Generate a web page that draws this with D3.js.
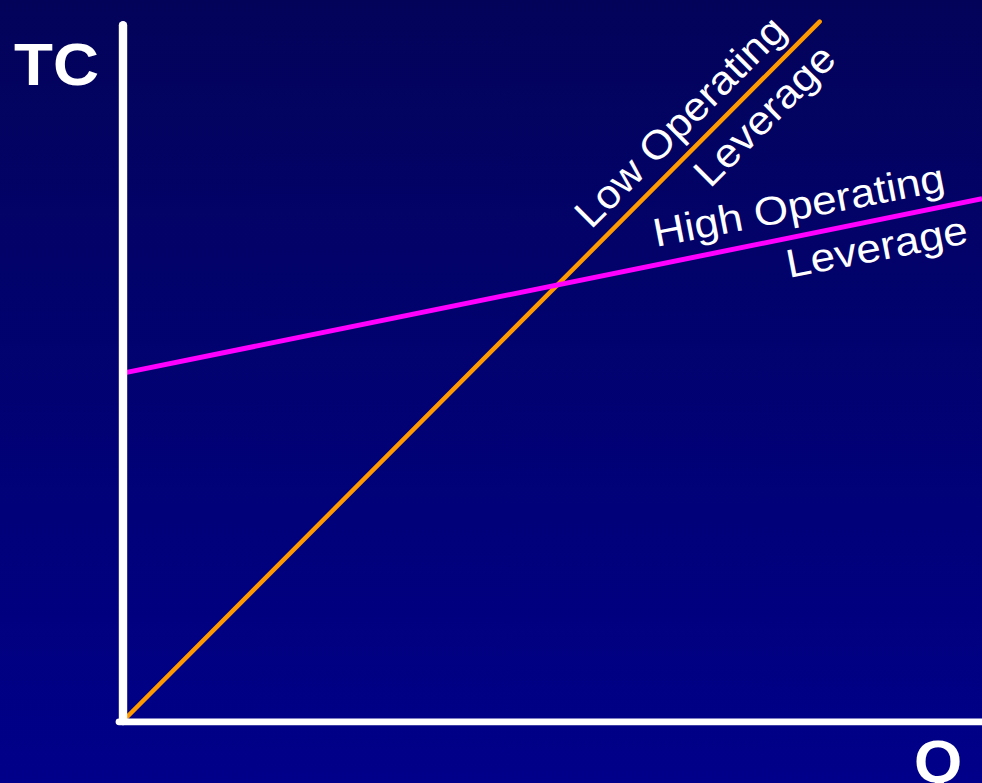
<!DOCTYPE html>
<html>
<head>
<meta charset="utf-8">
<script src="https://cdn.jsdelivr.net/npm/d3@7"></script>
<style>
  html, body { margin: 0; padding: 0; background: #000070; }
  svg { display: block; }
  text { font-family: "Liberation Sans", Arial, sans-serif; }
</style>
</head>
<body>
<div id="chart"></div>
<script>
// ---- data ----
const xTitle = "Q";
const yTitle = "TC";
const lowQ  = [0, 8.11];
const lowTC = [0, 9.99];
const highQ  = [0, 10];
const highTC = [4.97, 7.46];
const lowLabel  = ["Low Operating", "Leverage"];
const highLabel = ["High Operating", "Leverage"];

// ---- layout ----
const W = 982, H = 783;
const svg = d3.select("#chart").append("svg").attr("width", W).attr("height", H);

const defs = svg.append("defs");
const grad = defs.append("linearGradient").attr("id", "bg")
  .attr("x1", 0).attr("y1", 0).attr("x2", 0).attr("y2", 1);
grad.append("stop").attr("offset", "0%").attr("stop-color", "#03035a");
grad.append("stop").attr("offset", "100%").attr("stop-color", "#00008a");
svg.append("rect").attr("width", W).attr("height", H).attr("fill", "url(#bg)");

const x = d3.scaleLinear().domain([0, 10]).range([123, 982]);
const y = d3.scaleLinear().domain([0, 10]).range([721, 21]);

const line = d3.line().x(d => x(d[0])).y(d => y(d[1]));

// lines
svg.append("path")
  .datum(lowQ.map((q, i) => [q, lowTC[i]]))
  .attr("d", line)
  .attr("fill", "none").attr("stroke", "#ff9900")
  .attr("stroke-width", 4.5).attr("stroke-linecap", "round");

svg.append("path")
  .datum(highQ.map((q, i) => [q, highTC[i]]))
  .attr("d", line)
  .attr("fill", "none").attr("stroke", "#ff00ff")
  .attr("stroke-width", 5);

// axes (custom, no ticks)
svg.append("line")
  .attr("x1", x(0)).attr("x2", x(0)).attr("y1", y(9.94)).attr("y2", y(0))
  .attr("stroke", "#fff").attr("stroke-width", 8.4).attr("stroke-linecap", "round");
svg.append("line")
  .attr("x1", x(0) - 4).attr("x2", W + 5).attr("y1", y(0) + 0.8).attr("y2", y(0) + 0.8)
  .attr("stroke", "#fff").attr("stroke-width", 6.8).attr("stroke-linecap", "round");

// axis titles
svg.append("text").text(yTitle)
  .attr("transform", "translate(14,85) scale(1.08,1)")
  .attr("font-size", 59).attr("font-weight", "bold").attr("fill", "#fff");
svg.append("text").text(xTitle)
  .attr("transform", "translate(914,782) scale(1.05,1)")
  .attr("font-size", 59).attr("font-weight", "bold").attr("fill", "#fff");

// line labels
const labels = [
  { t: lowLabel[0],  ox: 591, oy: 230, a: -45, len: 279 },
  { t: lowLabel[1],  ox: 710, oy: 189, a: -45, len: 181 },
  { t: highLabel[0], ox: 656, oy: 247, a: -11, len: 296 },
  { t: highLabel[1], ox: 789, oy: 278, a: -11, len: 184 }
];
svg.selectAll("text.lbl").data(labels).enter().append("text")
  .attr("class", "lbl")
  .attr("transform", d => `translate(${d.ox},${d.oy}) rotate(${d.a})`)
  .attr("textLength", d => d.len)
  .attr("lengthAdjust", "spacingAndGlyphs")
  .attr("font-size", 40)
  .attr("fill", "#fff")
  .text(d => d.t);
</script>
</body>
</html>
